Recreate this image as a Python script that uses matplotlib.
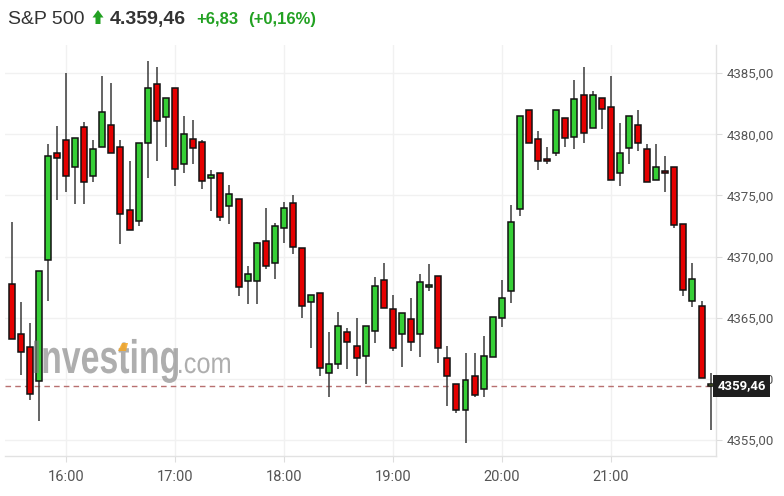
import matplotlib
matplotlib.use("Agg")
import matplotlib.pyplot as plt
from matplotlib.patches import Polygon, PathPatch
from matplotlib.textpath import TextPath
from matplotlib.font_manager import FontProperties
from matplotlib.transforms import Affine2D
from matplotlib.ticker import FuncFormatter, FixedLocator

# ---- data (5-minute candles, 15:30 .. 21:55) ----
opens = [4367.8, 4363.7, 4362.6, 4359.8, 4369.7, 4378.5, 4379.5, 4377.3, 4380.6, 4376.6,
         4379.0, 4380.8, 4379.0, 4373.85, 4372.9, 4379.3, 4384.1, 4381.4, 4383.75, 4377.6,
         4379.6, 4379.35, 4376.4, 4376.8, 4374.1, 4374.75, 4368.0, 4368.0, 4371.3, 4369.5,
         4372.3, 4374.35, 4370.7, 4366.25, 4367.05, 4360.5, 4361.25, 4363.8, 4362.7, 4361.85,
         4363.9, 4368.1, 4365.7, 4363.7, 4364.9, 4363.7, 4367.5, 4368.4, 4361.7, 4359.6,
         4357.45, 4360.2, 4359.2, 4361.8, 4365.0, 4367.2, 4373.9, 4382.0, 4379.6, 4378.0,
         4378.5, 4381.3, 4379.75, 4383.25, 4380.55, 4383.0, 4382.2, 4376.8, 4378.85, 4380.75,
         4378.8, 4376.3, 4377.0, 4377.3, 4372.7, 4366.35, 4366.0, 4359.4]
highs = [4372.8, 4366.25, 4364.6, 4368.8, 4379.2, 4380.7, 4385.05, 4379.7, 4381.0, 4379.5,
         4384.75, 4384.2, 4379.5, 4377.8, 4379.3, 4386.0, 4385.5, 4383.0, 4383.75, 4381.5,
         4381.2, 4379.5, 4377.1, 4376.8, 4375.85, 4374.75, 4369.2, 4371.2, 4374.0, 4372.76,
         4374.5, 4375.0, 4370.7, 4366.9, 4367.05, 4363.8, 4365.5, 4364.2, 4365.0, 4364.3,
         4368.3, 4369.5, 4366.85, 4365.35, 4366.65, 4368.6, 4369.4, 4368.4, 4362.7, 4359.6,
         4362.1, 4362.1, 4363.5, 4365.1, 4368.1, 4374.2, 4381.5, 4382.0, 4380.3, 4379.0,
         4382.0, 4381.3, 4384.4, 4385.5, 4383.5, 4383.0, 4384.75, 4380.9, 4381.5, 4382.0,
         4379.2, 4379.2, 4378.2, 4377.3, 4372.7, 4369.5, 4366.4, 4360.45]
lows = [4363.3, 4360.3, 4358.3, 4356.6, 4366.4, 4374.6, 4375.3, 4374.3, 4374.3, 4376.1,
        4379.0, 4378.5, 4371.0, 4372.2, 4372.5, 4376.4, 4377.8, 4379.0, 4375.8, 4376.8,
        4377.6, 4375.5, 4373.7, 4372.9, 4372.7, 4366.8, 4366.1, 4366.1, 4369.0, 4368.2,
        4371.1, 4370.2, 4365.0, 4362.5, 4360.2, 4358.5, 4360.8, 4360.8, 4360.25, 4359.55,
        4362.9, 4365.8, 4362.3, 4361.0, 4362.3, 4361.8, 4367.2, 4361.3, 4357.8, 4357.2,
        4354.8, 4358.5, 4358.5, 4361.8, 4364.25, 4366.2, 4373.3, 4379.3, 4377.1, 4377.6,
        4378.2, 4379.0, 4378.8, 4379.25, 4380.55, 4380.4, 4376.25, 4375.8, 4377.6, 4378.6,
        4376.1, 4376.3, 4375.25, 4372.3, 4366.8, 4365.9, 4360.05, 4355.8]
closes = [4363.3, 4362.2, 4358.8, 4368.8, 4378.2, 4378.1, 4376.6, 4379.7, 4376.1, 4378.8,
          4381.8, 4378.5, 4373.5, 4372.2, 4379.3, 4383.75, 4381.1, 4383.0, 4377.2, 4380.0,
          4378.9, 4376.2, 4376.7, 4373.2, 4375.1, 4367.5, 4368.55, 4371.15, 4369.2, 4372.5,
          4374.0, 4370.75, 4366.0, 4366.9, 4360.9, 4361.25, 4364.3, 4363.0, 4361.7, 4364.3,
          4367.6, 4365.8, 4362.5, 4365.35, 4363.0, 4367.9, 4367.7, 4362.5, 4360.2, 4357.5,
          4359.95, 4358.7, 4361.9, 4365.1, 4366.65, 4372.8, 4381.5, 4379.3, 4377.8, 4377.8,
          4382.0, 4379.7, 4382.9, 4380.1, 4383.25, 4382.1, 4376.25, 4378.5, 4381.5, 4379.3,
          4376.1, 4377.3, 4376.8, 4372.6, 4367.25, 4368.2, 4360.05, 4359.46]

hour_labels = ["16:00", "17:00", "18:00", "19:00", "20:00", "21:00"]
hour_index = [6, 18, 30, 42, 54, 66]
price_ticks = [4355, 4360, 4365, 4370, 4375, 4380, 4385]
last_price = 4359.46
title_name = "S&P 500"
title_price = "4.359,46"
title_change = "+6,83"
title_pct = "(+0,16%)"

GREEN = "#36cf36"
RED = "#e50000"
TXT_GREEN = "#22a122"

W, H = 784, 496
fig = plt.figure(figsize=(W / 100, H / 100), dpi=100)
fig.patch.set_facecolor("white")
ax = fig.add_axes([5 / W, 40 / H, (716 - 5) / W, (456 - 45) / H])

n = len(opens)
xs = list(range(n))
ax.vlines(xs, lows, highs, color="#3a3a3a", linewidth=1.1, zorder=2)
bottoms = [min(o, c) for o, c in zip(opens, closes)]
heights = [max(abs(c - o), 0.15) for o, c in zip(opens, closes)]
colors = [GREEN if c >= o else RED for o, c in zip(opens, closes)]
colors[-1] = "#9ccc3c"
ax.bar(xs, heights, bottom=bottoms, width=0.66, color=colors, edgecolor="#111111",
       linewidth=1.1, zorder=3)

ax.set_xlim(-0.72, 77.59)
ax.set_ylim(4353.7, 4387.3)

ax.axhline(last_price, color="#b87070", linewidth=1.0, dashes=(4, 3), zorder=1.5)

# grid
ax.set_yticks(price_ticks)
ax.xaxis.set_major_locator(FixedLocator(hour_index))
ax.set_xticklabels(hour_labels)
ax.grid(True, color="#f1f1f1", linewidth=1.0, zorder=0)
ax.set_axisbelow(True)

for s in ["top", "left"]:
    ax.spines[s].set_visible(False)
for s in ["right", "bottom"]:
    ax.spines[s].set_color("#e2e2e2")
    ax.spines[s].set_linewidth(1.0)

ax.yaxis.tick_right()
ax.yaxis.set_major_formatter(FuncFormatter(lambda v, p: f"{v:.2f}".replace(".", ",")))
ax.tick_params(axis="y", length=4, color="#dddddd", labelcolor="#555555", labelsize=9.5,
               pad=4)
ax.tick_params(axis="x", length=4, color="#dddddd", labelcolor="#555555", labelsize=10.5,
               pad=6)
for lab in ax.get_yticklabels():
    lab.set_family("Roboto")
for lab in ax.get_xticklabels():
    lab.set_family("Roboto")


# watermark (condensed logo text drawn as paths, in pixel coordinates)
def logo_text(s, weight, size, x0, x1, base_y):
    tp = TextPath((0, 0), s, size=size,
                  prop=FontProperties(family="Liberation Sans", weight=weight))
    ext = tp.get_extents()
    sx = (x1 - x0) / ext.width
    tr = Affine2D().translate(-ext.x0, 0).scale(sx, 1.0).translate(x0, H - base_y)
    patch = PathPatch(tp, transform=tr, facecolor="#7d7d7d", edgecolor="none",
                      alpha=0.62, zorder=5)
    fig.patches.append(patch)


logo_text("Investing", "bold", 47, 34, 178, 373)
logo_text(".com", "normal", 29, 179, 230, 373)
fig.patches.append(Polygon([[118 / W, 1 - 351 / H], [122 / W, 1 - 343 / H],
                            [128 / W, 1 - 343 / H], [126 / W, 1 - 351 / H]],
                           closed=True, transform=fig.transFigure, facecolor="#f5a623",
                           edgecolor="none", alpha=0.85, zorder=6))

# last price box
fig.text(741.5 / W, 1 - 386 / H, "4359,46", fontsize=9.5, fontweight="bold", color="white",
         ha="center", va="center", family="Roboto",
         bbox=dict(boxstyle="square,pad=0.32", facecolor="#1e1e1e", edgecolor="none"),
         zorder=10)

# header
base = 1 - 24 / H
fig.text(8 / W, base, title_name, fontsize=14, color="#333333", family="Liberation Sans",
         va="baseline")
fig.patches.append(Polygon([[92.5 / W, 1 - 17.5 / H], [98 / W, 1 - 10 / H],
                            [103.5 / W, 1 - 17.5 / H], [100.5 / W, 1 - 17.5 / H],
                            [100.5 / W, 1 - 24 / H], [95.5 / W, 1 - 24 / H],
                            [95.5 / W, 1 - 17.5 / H]],
                           closed=True, transform=fig.transFigure, facecolor=TXT_GREEN,
                           edgecolor="none"))
fig.text(110 / W, base, title_price, fontsize=14, fontweight="bold", color="#333333",
         family="Liberation Sans", va="baseline")
fig.text(196 / W, base, title_change, fontsize=12, fontweight="bold", color=TXT_GREEN,
         family="Liberation Sans", va="baseline")
fig.text(248 / W, base, title_pct, fontsize=12, fontweight="bold", color=TXT_GREEN,
         family="Liberation Sans", va="baseline")

fig.savefig("out.png", dpi=100)
